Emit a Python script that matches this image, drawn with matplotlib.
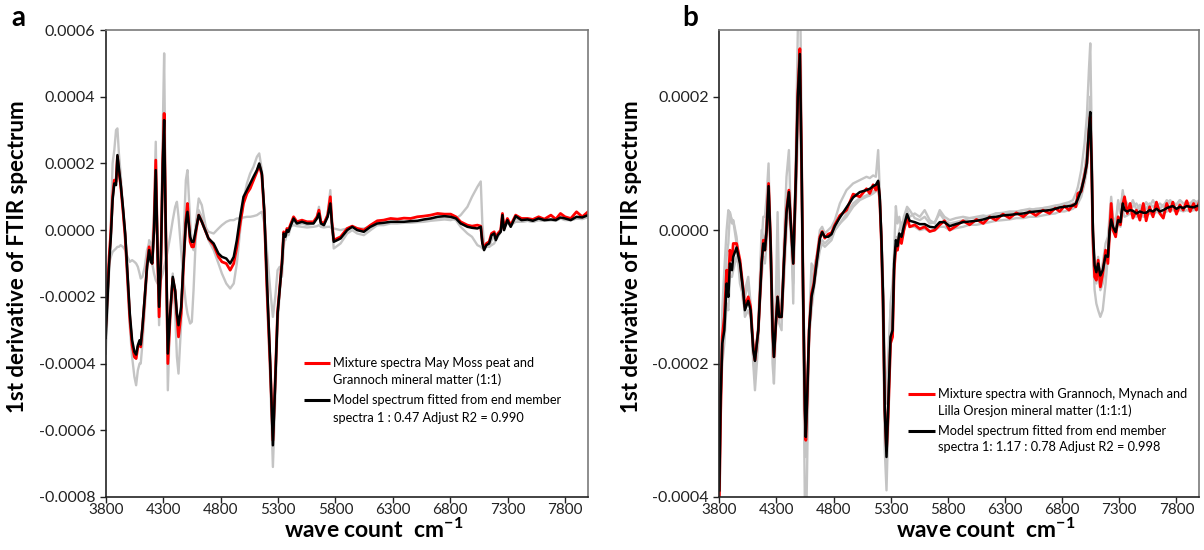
import numpy as np
import matplotlib
matplotlib.use("Agg")
import matplotlib.pyplot as plt

plt.rcParams['font.family'] = ['Lato', 'DejaVu Sans']
plt.rcParams['mathtext.default'] = 'regular'

# spectra values are in units of 1e-6 (1st derivative of FTIR spectrum)
UNIT = 1e-6

# ---- panel a : May Moss peat + Grannoch mineral matter ----
a_wn = [3800, 3815, 3830, 3845, 3860, 3875, 3890, 3902, 3915, 3930, 3950, 3970, 3990, 4010,
        4030, 4050, 4065, 4080, 4095, 4105, 4120, 4140, 4160, 4178, 4192, 4205, 4221, 4236,
        4251, 4265, 4280, 4297, 4309, 4323, 4341, 4361, 4384, 4405, 4420, 4434, 4457, 4477,
        4498, 4512, 4535, 4550, 4565, 4585, 4610, 4637, 4666, 4695, 4740, 4782, 4812, 4850,
        4884, 4915, 4942, 4971, 5000, 5030, 5058, 5087, 5117, 5137, 5160, 5181, 5204, 5233,
        5256, 5277, 5297, 5315, 5335, 5350, 5365, 5378, 5392, 5407, 5436, 5465, 5509, 5553,
        5610, 5640, 5657, 5674, 5700, 5733, 5756, 5770, 5786, 5845, 5903, 5947, 5990, 6048,
        6106, 6165, 6220, 6281, 6340, 6397, 6455, 6514, 6570, 6630, 6690, 6750, 6804, 6850,
        6891, 6950, 6990, 7037, 7066, 7080, 7095, 7115, 7139, 7160, 7183, 7197, 7215, 7240,
        7255, 7269, 7298, 7327, 7370, 7420, 7474, 7520, 7570, 7620, 7677, 7720, 7760, 7800,
        7850, 7900, 7950, 8000]

a_model = [-323, -210, -100, -20, 90, 140, 135, 225, 185, 140, 70, -10, -130, -250,
           -330, -365, -373, -345, -330, -343, -290, -200, -110, -60, -95, -100, 0, 180,
           -50, -230, -100, 200, 330, 0, -370, -250, -140, -180, -250, -285, -230, -100,
           20, 55, -20, -35, -35, 0, 45, 25, 0, -25, -40, -70, -80, -85,
           -100, -80, -30, 40, 100, 120, 140, 160, 180, 200, 170, 60, -150, -400,
           -645, -450, -250, -180, -100, -10, -20, 0, -5, 10, 35, 20, 25, 20,
           20, 35, 50, 20, 15, 40, 80, 20, -35, -25, 0, 10, 0, -5,
           10, 20, 22, 25, 25, 25, 27, 28, 32, 35, 40, 42, 40, 35,
           20, 10, 7, 5, 10, -40, -60, -45, -40, -15, -10, -30, -15, -5,
           45, 0, 30, 10, 42, 30, 32, 28, 35, 30, 32, 30, 38, 35,
           30, 40, 38, 45]

a_mix = [-290, -190, -80, -5, 100, 150, 145, 220, 175, 135, 60, -20, -140, -265,
         -345, -380, -385, -350, -340, -350, -295, -205, -105, -50, -85, -100, 10, 210,
         -60, -260, -110, 210, 350, 0, -400, -260, -145, -185, -260, -320, -250, -110,
         30, 80, -35, -50, -50, -5, 45, 25, 0, -25, -45, -80, -95, -100,
         -120, -100, -50, 20, 80, 110, 125, 150, 175, 195, 165, 50, -170, -410,
         -630, -440, -245, -175, -95, -5, -15, 5, 0, 15, 40, 25, 30, 25,
         25, 40, 60, 25, 20, 45, 100, 25, -30, -20, 5, 12, 5, 0,
         15, 28, 30, 35, 33, 36, 35, 40, 42, 45, 50, 48, 48, 40,
         25, 15, 12, 15, 12, -35, -55, -40, -35, -10, -5, -25, -10, 0,
         50, 5, 35, 15, 45, 35, 35, 32, 40, 33, 45, 33, 50, 40,
         35, 55, 40, 55]

a_peat = [-370, -250, -120, 30, 200, 240, 300, 305, 230, 170, 60, -40, -160, -290,
          -380, -440, -465, -420, -400, -400, -340, -240, -120, -30, -40, -50, 60, 265,
          -60, -285, -100, 300, 530, 50, -480, -260, -130, -250, -380, -430, -280, -30,
          150, 180, 30, -40, -60, 20, 95, 75, 20, -30, -60, -100, -130, -160,
          -175, -160, -100, 0, 90, 140, 170, 190, 220, 230, 180, 40, -200, -450,
          -710, -500, -280, -190, -100, -20, -30, -10, -15, 5, 30, 15, 20, 15,
          20, 40, 70, 20, 10, 50, 120, 10, -55, -40, -10, 0, -10, -15,
          0, 15, 18, 22, 22, 22, 24, 25, 28, 32, 36, 38, 36, 30,
          10, -10, -20, -45, -50, -55, -55, -50, -50, -30, -20, -25, -10, 0,
          30, 10, 25, 15, 35, 25, 28, 25, 30, 28, 30, 28, 35, 30,
          30, 35, 33, 40]

a_mineral = [-170, -130, -100, -80, -65, -60, -55, -50, -50, -45, -50, -60, -80, -95,
             -90, -95, -100, -110, -130, -145, -140, -110, -60, -40, -60, -100, -130, -150,
             -160, -155, -150, -130, -110, -90, -60, -20, 30, 70, 85, 40, -60, -150,
             -220, -250, -280, -275, -180, -20, 60, 40, 10, -5, -10, 5, 15, 25,
             30, 30, 35, 35, 38, 40, 40, 42, 45, 50, 55, 20, -60, -180,
             -260, -200, -120, -110, -140, -50, -10, 0, 5, 10, 15, 12, 10, 8,
             10, 12, 15, 10, 8, 10, 10, 5, 5, 0, 5, 10, 5, 5,
             10, 15, 15, 20, 20, 22, 22, 24, 25, 28, 30, 32, 30, 35,
             45, 70, 100, 130, 146, 20, -40, -50, -50, -45, -40, -30, -20, -5,
             15, 10, 20, 15, 25, 25, 28, 25, 30, 28, 30, 30, 35, 32,
             30, 35, 35, 38]

# ---- panel b : Grannoch, Mynach and Lilla Oresjon mineral matter ----
b_wn = [3800, 3812, 3826, 3844, 3864, 3879, 3893, 3911, 3922, 3951, 3981, 4010, 4024, 4053,
        4074, 4097, 4112, 4141, 4170, 4185, 4199, 4214, 4231, 4249, 4266, 4278, 4295, 4310,
        4324, 4345, 4365, 4388, 4409, 4426, 4447, 4470, 4487, 4505, 4520, 4534, 4549, 4557,
        4569, 4586, 4607, 4627, 4651, 4680, 4700, 4723, 4753, 4782, 4811, 4855, 4913, 4971,
        5029, 5088, 5117, 5146, 5170, 5190, 5204, 5218, 5233, 5248, 5263, 5277, 5298, 5316,
        5330, 5345, 5359, 5375, 5394, 5415, 5443, 5466, 5510, 5554, 5597, 5641, 5685, 5729,
        5770, 5816, 5870, 5933, 5990, 6050, 6110, 6166, 6220, 6282, 6340, 6399, 6460, 6515,
        6570, 6632, 6690, 6740, 6778, 6820, 6860, 6894, 6920, 6938, 6967, 6996, 7016, 7034,
        7046, 7058, 7069, 7084, 7099, 7115, 7134, 7155, 7180, 7200, 7215, 7229, 7245, 7268,
        7290, 7310, 7330, 7346, 7370, 7395, 7419, 7450, 7480, 7510, 7535, 7565, 7595, 7625,
        7655, 7685, 7715, 7745, 7768, 7800, 7830, 7860, 7890, 7920, 7950, 7975, 8000]

b_model = [-390, -250, -170, -150, -80, -100, -50, -60, -40, -26, -50, -93, -120, -106,
           -120, -180, -196, -150, -50, -20, -30, 0, 66, -20, -150, -190, -140, -100,
           -130, -130, -50, 26, 57, 10, -50, 80, 200, 264, 100, -100, -270, -310,
           -250, -150, -100, -83, -50, -13, -3, -10, -10, -6, 6, 19, 34, 49,
           57, 60, 62, 66, 68, 74, 50, -10, -100, -270, -340, -270, -160, -150,
           -50, -15, -24, -5, -10, 6, 24, 14, 12, 9, 9, 5, 4, 12,
           12, 6, 9, 12, 13, 14, 16, 19, 20, 22, 23, 24, 25, 27,
           28, 29, 30, 32, 34, 35, 36, 37, 40, 47, 60, 80, 100, 150,
           177, 100, 0, -53, -63, -50, -68, -60, -38, -40, 0, 16, 5, -3,
           15, 12, 40, 30, 28, 30, 29, 25, 28, 26, 26, 30, 28, 32,
           28, 30, 33, 35, 36, 32, 35, 33, 36, 35, 34, 36, 37]

b_mix = [-400, -270, -160, -130, -60, -80, -30, -45, -20, -20, -45, -90, -115, -100,
         -115, -175, -195, -150, -50, -15, -30, 0, 70, -20, -150, -190, -140, -100,
         -130, -130, -50, 30, 60, 10, -50, 80, 205, 272, 100, -100, -270, -315,
         -250, -150, -95, -80, -45, -10, -2, -12, -6, -4, 8, 22, 30, 54,
         50, 62, 55, 68, 60, 72, 45, -15, -110, -270, -330, -280, -170, -160,
         -60, -25, -30, -10, -20, 0, 20, 5, 8, 2, 5, -2, 0, 8,
         14, 0, 6, 14, 8, 16, 10, 20, 15, 24, 18, 26, 20, 28,
         22, 30, 25, 33, 28, 36, 30, 38, 35, 55, 58, 82, 100, 145,
         170, 95, -10, -70, -75, -45, -85, -65, -30, -50, -5, 40, 0, -10,
         20, 8, 38, 50, 25, 40, 18, 30, 15, 40, 14, 35, 20, 42,
         25, 18, 40, 28, 42, 24, 38, 30, 44, 28, 40, 30, 42]

b_end1 = [-450, -300, -120, -60, 0, 30, 25, 15, 15, -10, -60, -110, -90, -70,
          -110, -200, -240, -170, -20, 20, 20, 50, 100, -30, -200, -230, -150, -60,
          -140, -150, -20, 80, 120, 20, -110, 120, 300, 400, 150, -150, -420, -480,
          -350, -140, -50, -60, -40, 0, 5, -5, 0, 5, 15, 40, 60, 70,
          75, 80, 78, 82, 80, 120, 60, -30, -150, -330, -390, -300, -180, -110,
          -30, 36, 10, 20, 0, 20, 35, 30, 18, 15, 20, 10, 12, 25,
          15, 10, 12, 15, 18, 18, 20, 22, 25, 25, 27, 28, 30, 30,
          32, 33, 35, 37, 38, 40, 42, 45, 55, 65, 90, 130, 170, 240,
          280, 150, -30, -90, -110, -120, -130, -120, -80, -40, 10, 30, 15, 5,
          40, 30, 55, 45, 40, 35, 45, 30, 38, 30, 42, 35, 45, 35,
          40, 35, 45, 40, 42, 38, 45, 40, 42, 38, 45, 40, 42]

b_end2 = [-350, -220, -150, -120, -40, -20, 27, 10, 14, -20, -80, -100, -100, -80,
          -120, -190, -220, -140, 0, -10, -20, 20, 40, -40, -180, -200, -100, 27,
          -100, -120, -60, 40, 60, -10, -80, 60, 180, 250, 80, -120, -300, -340,
          -270, -160, -120, -90, -60, -30, -20, -25, -20, -15, 0, 10, 20, 35,
          45, 50, 52, 55, 58, 65, 40, -20, -110, -260, -310, -260, -110, -80,
          -40, -10, -15, 0, 10, 15, 30, 20, 25, 20, 30, 15, 10, 30,
          20, 15, 18, 20, 18, 20, 22, 20, 25, 26, 28, 27, 30, 32,
          30, 33, 34, 35, 36, 38, 38, 40, 42, 50, 65, 90, 120, 170,
          200, 120, 10, -60, -60, -40, -70, -50, -20, -10, 20, 50, 20, 10,
          45, 25, 60, 40, 35, 40, 35, 40, 30, 38, 32, 40, 35, 40,
          32, 38, 40, 45, 40, 38, 45, 40, 42, 40, 45, 42, 45]

b_end3 = [-300, -260, -200, -170, -110, -120, -70, -70, -60, -40, -60, -100, -130, -120,
          -130, -170, -180, -150, -70, -40, -50, -20, 30, -10, -120, -170, -140, -110,
          -125, -130, -80, 0, 40, 0, -40, 40, 140, 200, 70, -80, -220, -260,
          -220, -170, -80, -60, -40, -20, -15, -20, -15, -10, 0, 10, 25, 40,
          48, 52, 55, 58, 60, 70, 45, 0, -80, -200, -260, -190, -120, -130,
          -60, -20, -30, -10, -15, 0, 15, 5, 5, 0, 2, -2, 0, 5,
          5, 0, 3, 5, 8, 8, 10, 12, 14, 15, 16, 18, 18, 20,
          20, 22, 24, 25, 28, 28, 30, 32, 35, 40, 50, 70, 90, 130,
          160, 80, -20, -70, -80, -60, -90, -80, -50, -40, -10, 10, 0, -5,
          10, 5, 30, 20, 22, 25, 22, 20, 25, 20, 22, 25, 22, 28,
          25, 25, 28, 30, 30, 28, 30, 28, 30, 28, 30, 30, 32]

x_ticks = [3800, 4300, 4800, 5300, 5800, 6300, 6800, 7300, 7800]
a_yticks = [-0.0008, -0.0006, -0.0004, -0.0002, 0.0, 0.0002, 0.0004, 0.0006]
b_yticks = [-0.0004, -0.0002, 0.0, 0.0002]

a_labels = ["Mixture spectra May Moss peat and", "Grannoch mineral matter (1:1)",
            "Model spectrum fitted from end member", "spectra 1 : 0.47 Adjust R2 = 0.990"]
b_labels = ["Mixture spectra with Grannoch, Mynach and", "Lilla Oresjon mineral matter (1:1:1)",
            "Model spectrum fitted from end member", "spectra 1: 1.17 : 0.78 Adjust R2 = 0.998"]

GRAY = '#c4c4c4'
TICK_FS = 11
YLAB_FS = 16
XLAB_FS = 16.5
LEG_FS = 9.2

fig = plt.figure(figsize=(12.04, 5.5), dpi=100)
ax_a = fig.add_axes([105.7 / 1204, 53 / 550, 482.3 / 1204, 467 / 550])
ax_b = fig.add_axes([719.3 / 1204, 53 / 550, 480 / 1204, 467 / 550])


def style_axes(ax, yticks, ylim):
    ax.set_xlim(3800, 8000)
    ax.set_ylim(*ylim)
    ax.set_xticks(x_ticks)
    ax.set_xticklabels([str(t) for t in x_ticks], fontsize=TICK_FS)
    ax.set_yticks(yticks)
    ax.set_yticklabels(['{:.4f}'.format(t) for t in yticks], fontsize=TICK_FS + 0.5)
    ax.tick_params(direction='out', length=4.5, width=1, colors='#222222')
    ax.tick_params(axis='x', pad=0)
    ax.tick_params(axis='y', pad=3)
    for side in ['left', 'bottom']:
        ax.spines[side].set_color('#222222')
    for side in ['top', 'right']:
        ax.spines[side].set_color('#7a7a7a')
    for s in ax.spines.values():
        s.set_linewidth(1.2)
    ax.set_xlabel('wave count  cm$^{-1}$', fontsize=XLAB_FS, fontweight='bold')
    ax.set_ylabel('1st derivative of FTIR spectrum', fontsize=YLAB_FS, fontweight='bold')
    ax.xaxis.label.set_va('baseline')
    ax.yaxis.label.set_va('center')
    ax.xaxis.set_label_coords(0.555, -0.088)
    ax.yaxis.set_label_coords(-0.182, 0.515)


def legend_text(ax, x0, x1, xt, rows, labels):
    # two entries, each with a two line label; handle sits on the first line
    colors = ['#ff0000', '#000000']
    for i in range(2):
        y1, y2 = rows[i]
        ax.plot([x0, x1], [y1, y1], color=colors[i], lw=2.2, transform=ax.transAxes,
                solid_capstyle='butt', clip_on=False)
        ax.text(xt, y1, labels[2 * i], fontsize=LEG_FS, va='center', ha='left', transform=ax.transAxes)
        ax.text(xt, y2, labels[2 * i + 1], fontsize=LEG_FS, va='center', ha='left', transform=ax.transAxes)


# panel a
xa = np.array(a_wn)
ax_a.plot(xa, np.array(a_peat) * UNIT, color=GRAY, lw=1.7)
ax_a.plot(xa, np.array(a_mineral) * UNIT, color=GRAY, lw=1.7)
ax_a.plot(xa, np.array(a_mix) * UNIT, color='#ff0000', lw=2.0)
ax_a.plot(xa, np.array(a_model) * UNIT, color='black', lw=1.8)
style_axes(ax_a, a_yticks, (-0.0008, 0.0006))
legend_text(ax_a, 0.411, 0.465, 0.471, [(0.287, 0.252), (0.208, 0.1685)], a_labels)

# panel b
xb = np.array(b_wn)
for end in [b_end1, b_end2, b_end3]:
    ax_b.plot(xb, np.array(end) * UNIT, color=GRAY, lw=1.7)
ax_b.plot(xb, np.array(b_mix) * UNIT, color='#ff0000', lw=2.0)
ax_b.plot(xb, np.array(b_model) * UNIT, color='black', lw=1.8)
style_axes(ax_b, b_yticks, (-0.0004, 0.0003))
legend_text(ax_b, 0.393, 0.449, 0.456, [(0.2206, 0.1848), (0.1413, 0.107)], b_labels)

fig.text(18 / 1204, 1 - 18 / 550, 'a', fontsize=20, fontweight='bold', ha='center', va='center')
fig.text(690 / 1204, 1 - 18 / 550, 'b', fontsize=20, fontweight='bold', ha='center', va='center')

fig.savefig('out.png', dpi=100)
